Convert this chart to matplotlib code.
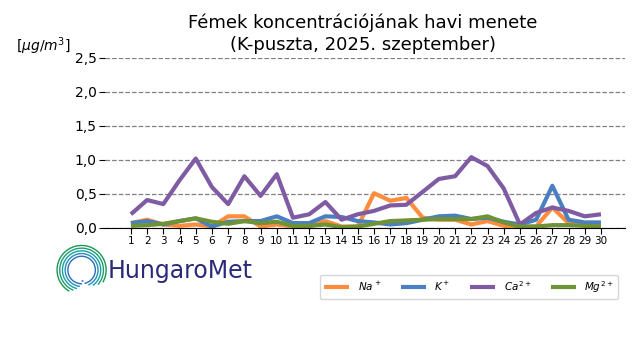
import numpy as np
import matplotlib
matplotlib.use("Agg")
import matplotlib.pyplot as plt
from matplotlib.patches import Arc

days = list(range(1, 31))
na = [0.07, 0.12, 0.05, 0.03, 0.05, 0.02, 0.17, 0.17, 0.02, 0.05, 0.02, 0.02, 0.10, 0.02, 0.02,
      0.51, 0.40, 0.44, 0.15, 0.12, 0.12, 0.05, 0.10, 0.03, 0.02, 0.02, 0.30, 0.07, 0.03, 0.03]
k = [0.07, 0.10, 0.05, 0.10, 0.14, 0.02, 0.09, 0.10, 0.10, 0.17, 0.07, 0.07, 0.17, 0.16, 0.10,
     0.08, 0.05, 0.07, 0.12, 0.17, 0.18, 0.13, 0.15, 0.09, 0.05, 0.12, 0.62, 0.12, 0.08, 0.08]
ca = [0.20, 0.41, 0.35, 0.70, 1.02, 0.60, 0.35, 0.76, 0.47, 0.79, 0.15, 0.20, 0.38, 0.12, 0.20,
      0.25, 0.33, 0.34, 0.53, 0.72, 0.76, 1.04, 0.91, 0.58, 0.05, 0.22, 0.30, 0.25, 0.17, 0.20]
mg = [0.03, 0.04, 0.06, 0.10, 0.14, 0.09, 0.06, 0.10, 0.07, 0.09, 0.03, 0.03, 0.05, 0.01, 0.02,
      0.06, 0.10, 0.11, 0.12, 0.13, 0.13, 0.13, 0.17, 0.08, 0.02, 0.02, 0.04, 0.04, 0.03, 0.02]
yticks = [0.0, 0.5, 1.0, 1.5, 2.0, 2.5]
ytick_labels = ["0,0", "0,5", "1,0", "1,5", "2,0", "2,5"]

series = [
    (na, "#fd8d3c", r"$Na^+$"),
    (k, "#4a7fc1", r"$K^+$"),
    (ca, "#7e5ba3", r"$Ca^{2+}$"),
    (mg, "#6e9236", r"$Mg^{2+}$"),
]

fig = plt.figure(figsize=(6.4, 3.6), dpi=100)
ax = fig.add_axes([0.164, 0.367, 0.813, 0.472])
for vals, col, lab in series:
    ax.plot(days, vals, color=col, lw=3, label=lab, solid_capstyle="butt")

ax.set_ylim(0, 2.5)
ax.set_xlim(-0.6, 31.5)
ax.set_yticks(yticks)
ax.set_yticklabels(ytick_labels, fontsize=10)
ax.set_xticks(days)
ax.set_xticklabels([str(d) for d in days], fontsize=7.5)
ax.yaxis.grid(True, linestyle="--", color="#808080", lw=0.9)
ax.set_axisbelow(True)
for s in ["top", "right", "left"]:
    ax.spines[s].set_visible(False)
ax.spines["bottom"].set_color("black")
ax.tick_params(axis="x", length=4, pad=2)
ax.tick_params(axis="y", length=4, pad=2)

fig.text(0.567, 0.85, "Fémek koncentrációjának havi menete\n(K-puszta, 2025. szeptember)",
         ha="center", va="bottom", fontsize=13, linespacing=1.25)
fig.text(0.068, 0.872, r"[$\mu g/m^3$]", ha="center", va="center", fontsize=10)

leg = fig.legend(loc="center", bbox_to_anchor=(0.733, 0.203), ncol=4, fontsize=7.5,
                 frameon=True, handlelength=2.4, columnspacing=1.9, handletextpad=0.8)
for line in leg.get_lines():
    line.set_linewidth(3)
leg.get_frame().set_edgecolor("#cccccc")

# logo
lax = fig.add_axes([0.085, 0.175, 0.085, 0.15])
lax.set_xlim(-1.1, 1.1)
lax.set_ylim(-1.1, 1.1)
lax.set_aspect("equal")
lax.axis("off")
cols = ["#1a9850", "#1b9e77", "#17a2a0", "#1f8fbf", "#2a6fb5", "#2b5aa8"]
for i, r in enumerate(np.linspace(1.0, 0.45, 6)):
    lax.add_patch(Arc((0, 0), 2 * r, 2 * r, theta1=-30 - i * 12, theta2=240 + i * 8,
                      color=cols[i], lw=1.0))
fig.text(0.168, 0.247, "HungaroMet", fontsize=17, color="#2b2a7a", va="center", ha="left")

fig.savefig("out.png", dpi=100)
